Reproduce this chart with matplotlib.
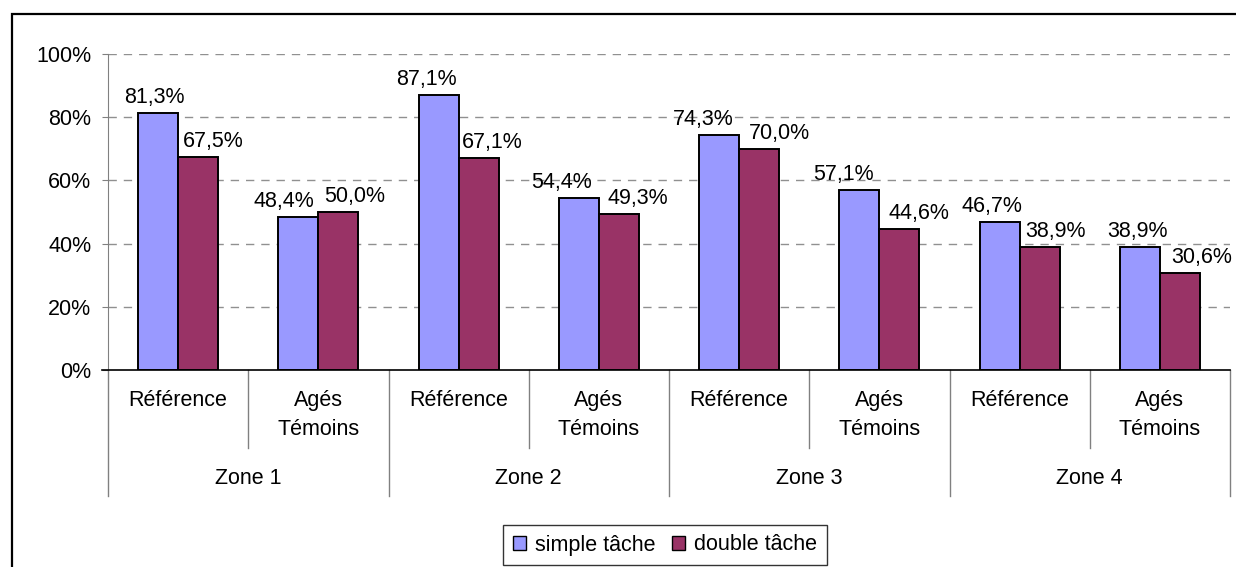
import matplotlib.pyplot as plt
from matplotlib.patches import Rectangle, Patch
from matplotlib.lines import Line2D

plt.rcParams['font.family'] = ['Liberation Sans', 'DejaVu Sans']

zones = ['Zone 1', 'Zone 2', 'Zone 3', 'Zone 4']
groups = ['Référence', 'Agés\nTémoins']
simple = [81.3, 48.4, 87.1, 54.4, 74.3, 57.1, 46.7, 38.9]
double = [67.5, 50.0, 67.1, 49.3, 70.0, 44.6, 38.9, 30.6]
series_names = ['simple tâche', 'double tâche']
colors = ['#9999FF', '#993366']

# horizontal nudges (pixels) of the value labels, so neighbours don't collide
nudge_simple = [-4, -15, -12, -17, -16, -16, -8, -2]
nudge_double = [15, 16, 14, 19, 20, 20, 16, 22]

W, H = 1236, 567
fig = plt.figure(figsize=(W / 100, H / 100), dpi=100)
ax = fig.add_axes([108 / W, 1 - 370 / H, (1230 - 108) / W, (370 - 54) / H])

n = len(simple)
bw = 0.285
fs = 15.5
for i in range(n):
    x = i + 0.5
    ax.bar(x - bw / 2, simple[i], bw, color=colors[0], edgecolor='black', linewidth=1.4, zorder=3)
    ax.bar(x + bw / 2, double[i], bw, color=colors[1], edgecolor='black', linewidth=1.4, zorder=3)
    for dx, v, nx in ((-bw / 2, simple[i], nudge_simple[i]), (bw / 2, double[i], nudge_double[i])):
        ax.annotate(('%.1f%%' % v).replace('.', ','), (x + dx, v), xytext=(nx, 10),
                    textcoords='offset pixels', ha='center', va='baseline', fontsize=fs)

ax.set_xlim(0, n)
ax.set_ylim(0, 100)
ax.set_yticks(range(0, 101, 20))
ax.set_yticklabels(['%d%%' % t for t in range(0, 101, 20)], fontsize=fs)
ax.tick_params(axis='y', length=4, color='#808080', pad=8)
ax.set_xticks([])
for y in range(20, 101, 20):
    ax.axhline(y, color='#909090', linestyle=(0, (6, 5)), linewidth=1, zorder=1)
for s in ['top', 'right', 'bottom']:
    ax.spines[s].set_visible(False)
ax.spines['left'].set_color('#808080')
ax.plot([-0.04, n], [0, 0], color='black', linewidth=1.2, clip_on=False, zorder=4)

# two-level category axis
tr = ax.get_xaxis_transform()
ah = 370 - 54
for i in range(n):
    lab = groups[i % 2]
    dy = -30 if i % 2 == 0 else -45
    ax.annotate(lab, (i + 0.5, 0), xycoords=tr, xytext=(0, dy),
                textcoords='offset pixels', ha='center', va='center', fontsize=fs,
                linespacing=1.55)
for k, z in enumerate(zones):
    ax.annotate(z, (2 * k + 1, 0), xycoords=tr, xytext=(0, -108),
                textcoords='offset pixels', ha='center', va='center', fontsize=fs)
for x in range(1, n, 2):
    ax.add_line(Line2D([x, x], [0, -(448 - 370) / ah], transform=tr, color='#808080',
                       linewidth=1, clip_on=False))
for x in range(0, n + 1, 2):
    ax.add_line(Line2D([x, x], [0, -(496 - 370) / ah], transform=tr, color='#808080',
                       linewidth=1, clip_on=False))

# outer chart frame
fig.patches.append(Rectangle((12 / W, -0.1), 1.2, 1.1 - 14 / H, transform=fig.transFigure,
                             fill=False, edgecolor='black', linewidth=1.6))

handles = [Patch(facecolor=c, edgecolor='black', linewidth=1) for c in colors]
leg = fig.legend(handles, series_names, loc='center', bbox_to_anchor=(665 / W, 1 - 545 / H),
                 ncol=2, fontsize=fs, frameon=True, fancybox=False, handlelength=0.6,
                 handleheight=0.6, handletextpad=0.4, columnspacing=0.8, borderpad=0.45,
                 borderaxespad=0)
leg.get_frame().set_edgecolor('black')
leg.get_frame().set_linewidth(1)

fig.savefig('out.png', dpi=100)
